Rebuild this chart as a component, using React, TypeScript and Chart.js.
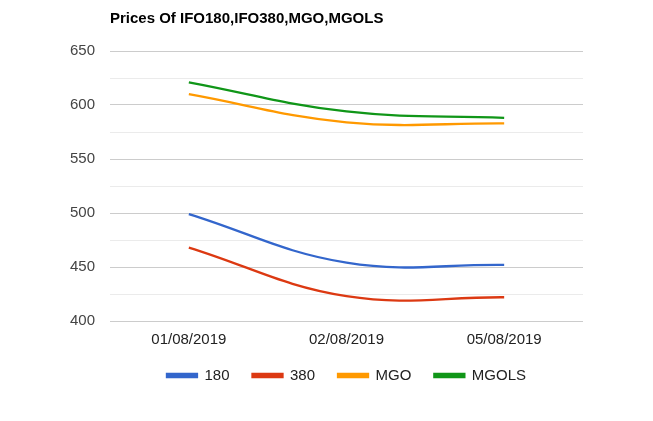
import React, { useEffect, useRef } from "react";
import { Chart, registerables } from "chart.js";

Chart.register(...registerables);

const TITLE = "Prices Of IFO180,IFO380,MGO,MGOLS";
const categories = ["01/08/2019", "02/08/2019", "05/08/2019"];
const s180 = [499, 454, 452];
const s380 = [468, 423, 422];
const sMGO = [610, 584, 583];
const sMGOLS = [621, 594, 588];
const seriesNames = ["180", "380", "MGO", "MGOLS"];
const seriesColors = ["#3366cc", "#dc3912", "#ff9900", "#109618"];
const yMin = 400;
const yMax = 650;

const FONT = "Arial, 'Liberation Sans', sans-serif";

const titlePlugin = {
  id: "leftTitle",
  afterDraw(chart: any) {
    const { ctx, chartArea } = chart;
    ctx.save();
    ctx.font = `bold 15px ${FONT}`;
    ctx.fillStyle = "#000";
    ctx.textAlign = "left";
    ctx.textBaseline = "middle";
    ctx.fillText(TITLE, chartArea.left, 19);
    ctx.restore();
  },
};

export default function App() {
  const ref = useRef<HTMLCanvasElement | null>(null);
  useEffect(() => {
    document.body.style.margin = "0";
    const data = [s180, s380, sMGO, sMGOLS];
    const chart = new Chart(ref.current as HTMLCanvasElement, {
      type: "line",
      data: {
        labels: categories,
        datasets: data.map((d, i) => ({
          label: seriesNames[i],
          data: d,
          borderColor: seriesColors[i],
          backgroundColor: seriesColors[i],
          borderWidth: 2.3,
          pointRadius: 0,
          tension: 0.4,
          fill: false,
        })),
      },
      options: {
        animation: false,
        responsive: false,
        layout: { padding: { top: 51, right: 70, left: 0, bottom: 28 } },
        plugins: {
          title: { display: false },
          tooltip: { enabled: false },
          legend: {
            position: "bottom",
            fullSize: false,
            labels: {
              boxWidth: 30,
              boxHeight: 3,
              padding: 23,
              color: "#222",
              font: { family: FONT, size: 15 },
            },
          },
        },
        scales: {
          x: {
            offset: true,
            grid: { display: false, drawTicks: false },
            border: { display: false },
            ticks: { color: "#222", font: { family: FONT, size: 15 }, padding: 10, maxRotation: 0 },
            afterFit(scale: any) {
              scale.height = 24;
            },
          },
          y: {
            min: yMin,
            max: yMax,
            grid: {
              drawTicks: false,
              color: (ctx: any) => (ctx.tick && ctx.tick.value % 50 === 0 ? "#cccccc" : "#ebebeb"),
            },
            border: { display: false },
            ticks: {
              stepSize: 25,
              padding: 15,
              color: "#444",
              font: { family: FONT, size: 15 },
              callback: (v: any) => (Number(v) % 50 === 0 ? String(v) : ""),
            },
            afterFit(scale: any) {
              scale.width = 110;
            },
          },
        },
      },
      plugins: [titlePlugin],
    });
    return () => chart.destroy();
  }, []);
  return (
    <div style={{ position: "absolute", left: 0, top: 0, width: 653, height: 421, background: "#fff" }}>
      <canvas ref={ref} width={653} height={421} />
    </div>
  );
}
